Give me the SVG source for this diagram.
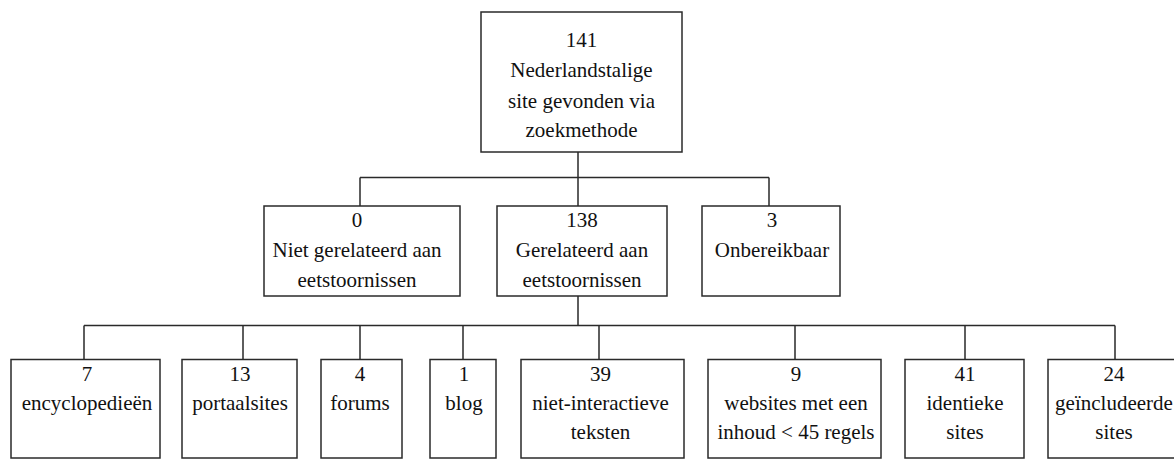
<svg xmlns="http://www.w3.org/2000/svg" width="1174" height="468" viewBox="0 0 1174 468">
<style>
.box{fill:#fff;stroke:#2a2a2a;stroke-width:1.5}
.conn{fill:none;stroke:#2a2a2a;stroke-width:1.5}
text{font-size:21px;fill:#111;text-anchor:middle}
</style>
<rect width="1174" height="468" fill="#fff"/>
<g id="connectors" class="conn">
<path d="M578,152 V177.5 M360,177.5 H769 M360,177.5 V206 M578,177.5 V206 M769,177.5 V206"/>
<path d="M578,296 V325.5 M84,325.5 H1115 M84,325.5 V359.5 M243,325.5 V359.5 M360,325.5 V359.5 M463,325.5 V359.5 M599,325.5 V359.5 M795,325.5 V359.5 M965,325.5 V359.5 M1115,325.5 V359.5"/>
</g>
<g id="nodes" font-family="Liberation Serif">
<g id="root">
<rect class="box" x="481" y="12" width="201" height="140"/>
<text x="581.5" y="47">141</text>
<text x="581.5" y="77">Nederlandstalige</text>
<text x="581.5" y="108">site gevonden via</text>
<text x="581.5" y="137">zoekmethode</text>
</g>
<g id="niet-gerelateerd">
<rect class="box" x="264" y="206" width="196" height="90"/>
<text x="357" y="227">0</text>
<text x="357" y="257">Niet gerelateerd aan</text>
<text x="357" y="287">eetstoornissen</text>
</g>
<g id="gerelateerd">
<rect class="box" x="497" y="206" width="170" height="90"/>
<text x="582" y="227">138</text>
<text x="582" y="257">Gerelateerd aan</text>
<text x="582" y="287">eetstoornissen</text>
</g>
<g id="onbereikbaar">
<rect class="box" x="702" y="206" width="138" height="90"/>
<text x="772" y="227">3</text>
<text x="772" y="257">Onbereikbaar</text>
</g>
<g id="encyclopedieen">
<rect class="box" x="11" y="359.5" width="149" height="98.5"/>
<text x="87" y="381">7</text>
<text x="87" y="410">encyclopedieën</text>
</g>
<g id="portaalsites">
<rect class="box" x="182" y="359.5" width="115" height="98.5"/>
<text x="240" y="381">13</text>
<text x="240" y="410">portaalsites</text>
</g>
<g id="forums">
<rect class="box" x="321" y="359.5" width="81" height="98.5"/>
<text x="360" y="381">4</text>
<text x="360" y="410">forums</text>
</g>
<g id="blog">
<rect class="box" x="430" y="359.5" width="66" height="98.5"/>
<text x="464" y="381">1</text>
<text x="464" y="410">blog</text>
</g>
<g id="niet-interactieve">
<rect class="box" x="521" y="359.5" width="163" height="98.5"/>
<text x="600.5" y="381">39</text>
<text x="600.5" y="410">niet-interactieve</text>
<text x="600.5" y="439">teksten</text>
</g>
<g id="websites">
<rect class="box" x="708" y="359.5" width="173" height="98.5"/>
<text x="796" y="381">9</text>
<text x="796" y="410">websites met een</text>
<text x="796" y="439">inhoud &lt; 45 regels</text>
</g>
<g id="identieke">
<rect class="box" x="905" y="359.5" width="119" height="98.5"/>
<text x="965" y="381">41</text>
<text x="965" y="410">identieke</text>
<text x="965" y="439">sites</text>
</g>
<g id="geincludeerde">
<rect class="box" x="1048" y="359.5" width="134" height="98.5"/>
<text x="1114" y="381">24</text>
<text x="1114" y="410">geïncludeerde</text>
<text x="1114" y="439">sites</text>
</g>
</g>
</svg>
